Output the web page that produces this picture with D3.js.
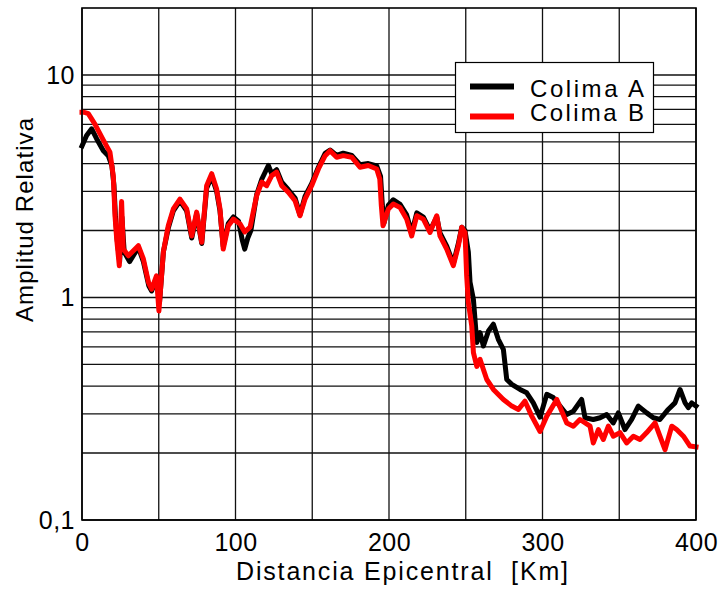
<!DOCTYPE html>
<html>
<head>
<meta charset="utf-8">
<script src="https://cdn.jsdelivr.net/npm/d3@7"></script>
<style>
  body { margin: 0; background: #fff; }
  text { font-family: "Liberation Sans", Arial, sans-serif; fill: #000; }
</style>
</head>
<body>
<div class="container"></div>
<script>
// Colima B (red) : [distance km, relative amplitude]
const colimaB = [
  [0, 6.8], [1.3, 6.8], [4.1, 6.7], [8.5, 6.0], [13.9, 5.1], [18.2, 4.5], [20.4, 3.5], [21.5, 2.33],
  [22.6, 1.83], [24.3, 1.39], [25.8, 2.7], [26.9, 1.65], [30.2, 1.54], [36.7, 1.71], [40, 1.49],
  [43.3, 1.17], [45.4, 1.09], [48.5, 1.25], [50.1, 0.87], [53, 1.6], [56.2, 2.1], [59.5, 2.5],
  [63.8, 2.77], [68.2, 2.5], [71.5, 1.89], [74.7, 2.42], [78, 1.77], [81.2, 3.18], [84.5, 3.6],
  [87.7, 3.07], [89.9, 2.5], [92, 1.65], [95.3, 2.1], [98.6, 2.25], [103, 2.14], [106, 1.97],
  [109.5, 2.07], [113.8, 2.87], [117.1, 3.3], [120.3, 3.18], [123.6, 3.53], [126.8, 3.66],
  [130.1, 3.18], [134.4, 2.97], [138.8, 2.72], [142, 2.33], [145.3, 2.77], [149.6, 3.18],
  [154, 3.78], [158.4, 4.34], [161.6, 4.57], [165.9, 4.27], [170.2, 4.34], [175.7, 4.27],
  [181.1, 3.85], [186.5, 3.92], [192, 3.78], [194, 3.41], [195, 2.59], [196.1, 2.1], [199.6, 2.5],
  [202.8, 2.63], [207.2, 2.54], [211.5, 2.25], [214.8, 1.89], [218.1, 2.33], [222.4, 2.25],
  [226.7, 1.96], [231.1, 2.33], [233.2, 1.89], [237.6, 1.65], [241.9, 1.39], [245.2, 1.71],
  [247.4, 2.07], [249.5, 1.96], [250.6, 1.25], [251.7, 0.95], [253.9, 0.745], [255, 0.565],
  [257.2, 0.49], [259.3, 0.527], [261.5, 0.475], [263.7, 0.428], [268, 0.386], [274.5, 0.348],
  [280, 0.325], [284.3, 0.314], [288.6, 0.342], [293, 0.293], [298.4, 0.25], [302.8, 0.293],
  [309.3, 0.348], [315.8, 0.273], [320.1, 0.264], [324.4, 0.283], [331, 0.264], [333.1, 0.222],
  [336.4, 0.255], [339.6, 0.23], [342.9, 0.264], [346.1, 0.238], [350.5, 0.247], [354.8, 0.222],
  [359.2, 0.238], [363.5, 0.23], [367.9, 0.247], [373.3, 0.273], [376.5, 0.238], [379.8, 0.207],
  [384.2, 0.264], [387.4, 0.255], [391.8, 0.238], [396.1, 0.215], [400, 0.213]
];
// Colima A (black)
const colimaA = [
  [0, 4.8], [3, 5.35], [6.3, 5.73], [9.6, 5.16], [13.9, 4.57], [17.1, 4.34], [19.5, 3.9], [20.8, 3.2],
  [21.8, 2.3], [23, 1.8], [24.5, 1.45], [26, 2.3], [27.5, 1.6], [31, 1.45], [36.7, 1.68], [40, 1.45],
  [43.5, 1.13], [45.4, 1.07], [48.5, 1.22], [50.5, 0.95], [53, 1.6], [56.2, 2.05], [59.5, 2.45],
  [63.8, 2.72], [68.2, 2.45], [71.5, 1.85], [74.7, 2.38], [78, 1.75], [81.2, 3.1], [84.5, 3.5],
  [87.7, 3.0], [89.9, 2.45], [92, 1.7], [95.3, 2.15], [98.6, 2.3], [102, 2.2], [104.5, 1.8],
  [106, 1.65], [108, 1.85], [110, 2.0], [113.8, 2.9], [117.1, 3.4], [121.4, 3.92], [123.6, 3.6],
  [126.8, 3.75], [130.1, 3.3], [134.4, 3.05], [138.8, 2.8], [142, 2.35], [145.3, 2.85],
  [149.6, 3.25], [154, 3.85], [158.4, 4.45], [161.6, 4.6], [165.9, 4.35], [170.2, 4.45],
  [175.7, 4.35], [181.1, 3.95], [186.5, 4.0], [192, 3.9], [194.5, 3.5], [195.5, 2.7], [196.6, 2.15],
  [199.6, 2.6], [202.8, 2.75], [207.2, 2.62], [211.5, 2.35], [214.8, 1.95], [218.1, 2.4],
  [222.4, 2.3], [226.7, 2.0], [231.1, 2.3], [233.2, 1.95], [237.6, 1.7], [241.9, 1.42], [245.2, 1.75],
  [247.4, 2.07], [249.5, 2.0], [251.7, 1.6], [252.8, 1.17], [255, 0.98], [257.2, 0.627],
  [259.3, 0.695], [261.5, 0.605], [264.8, 0.707], [268, 0.758], [271.2, 0.649], [274.5, 0.585],
  [276.7, 0.428], [280, 0.407], [285.4, 0.386], [289.7, 0.373], [294, 0.336], [298.4, 0.29],
  [302.8, 0.367], [307, 0.355], [311.4, 0.325], [315.8, 0.298], [320.1, 0.308], [325.5, 0.348],
  [327.7, 0.288], [333.1, 0.283], [337.5, 0.288], [341.8, 0.298], [346.1, 0.273], [349.4, 0.303],
  [353.7, 0.255], [358.1, 0.283], [362.4, 0.325], [367.9, 0.303], [372.2, 0.288], [376.5, 0.283],
  [381.9, 0.314], [386.3, 0.336], [389.6, 0.386], [392.9, 0.336], [395, 0.32], [397.2, 0.336],
  [400, 0.325]
];

const xTicks = [0, 100, 200, 300, 400];
const xGrid = [0, 50, 100, 150, 200, 250, 300, 350, 400];
const yTicks = [0.1, 1, 10];
const seriesNames = ["Colima A", "Colima B"];
const seriesColors = ["#000000", "#ff0000"];

const W = 724, H = 589;
const margin = { top: 8, right: 28, bottom: 69, left: 82 };
const w = W - margin.left - margin.right,
      h = H - margin.top - margin.bottom;

const svg = d3.select(".container").append("svg").attr("width", W).attr("height", H);
const g = svg.append("g").attr("transform", "translate(" + margin.left + "," + margin.top + ")");

const xScale = d3.scaleLinear().domain([0, 400]).range([0, w]);
const yScale = d3.scaleLog().domain([0.1, 20]).range([h, 0]);

//Grid lines
g.append("g").selectAll("line").data(yScale.ticks().filter(d => d < 20)).enter().append("line")
  .attr("x1", 0).attr("x2", w).attr("y1", d => yScale(d)).attr("y2", d => yScale(d))
  .attr("stroke", "#111").attr("stroke-width", 1.3);
g.append("g").selectAll("line").data(xGrid).enter().append("line")
  .attr("x1", d => xScale(d)).attr("x2", d => xScale(d)).attr("y1", 0).attr("y2", h)
  .attr("stroke", "#111").attr("stroke-width", 1.3);

//Curves
const line = d3.line().x(d => xScale(d[0])).y(d => yScale(d[1]));
[colimaA, colimaB].forEach((data, i) => {
  g.append("path").datum(data).attr("d", line).attr("fill", "none")
    .attr("stroke", seriesColors[i]).attr("stroke-width", 5)
    .attr("stroke-linejoin", "round").attr("stroke-linecap", "square");
});

//Frame
g.append("rect").attr("width", w).attr("height", h).attr("fill", "none")
  .attr("stroke", "#000").attr("stroke-width", 1.6);

//Axes (labels only, the grid is drawn above)
const xAxis = d3.axisBottom(xScale).tickValues(xTicks).tickSize(0).tickPadding(13);
const yAxis = d3.axisLeft(yScale).tickValues(yTicks).tickSize(0).tickPadding(7)
  .tickFormat(d => String(d).replace(".", ","));

const gx = g.append("g").attr("transform", "translate(0," + h + ")").call(xAxis);
const gy = g.append("g").call(yAxis);
[gx, gy].forEach(a => {
  a.select(".domain").remove();
  a.selectAll("text").attr("font-size", 25).attr("font-family", "Liberation Sans, Arial, sans-serif")
    .attr("fill", "#000").style("letter-spacing", "0.5px");
});
gx.selectAll("text").attr("dy", "0.71em").attr("y", 13);
gy.selectAll("text").attr("dy", "0.33em");

//Axis titles
svg.append("text").attr("x", 236).attr("y", 580).style("font-size", "25px")
  .style("white-space", "pre").attr("textLength", 332).attr("lengthAdjust", "spacing")
  .text("Distancia Epicentral  [Km]");

svg.append("text").attr("transform", "translate(33,220) rotate(-90)").attr("text-anchor", "middle")
  .style("font-size", "24px").attr("textLength", 204).attr("lengthAdjust", "spacing")
  .text("Amplitud Relativa");

//Legend
const legend = svg.append("g");
legend.append("rect").attr("x", 455.5).attr("y", 62.5).attr("width", 198).attr("height", 70)
  .attr("fill", "#fff").attr("stroke", "#000").attr("stroke-width", 1.2);
const item = legend.selectAll(".item").data(seriesNames).enter().append("g")
  .attr("transform", (d, i) => "translate(0," + (i * 30) + ")");
item.append("line").attr("x1", 470).attr("x2", 514).attr("y1", 86.5).attr("y2", 86.5)
  .attr("stroke", (d, i) => seriesColors[i]).attr("stroke-width", 6);
item.append("text").attr("x", 530).attr("y", (d, i) => 96.5 - i * 6).style("font-size", "24px")
  .attr("textLength", 114).attr("lengthAdjust", "spacing").text(d => d);
</script>
</body>
</html>
